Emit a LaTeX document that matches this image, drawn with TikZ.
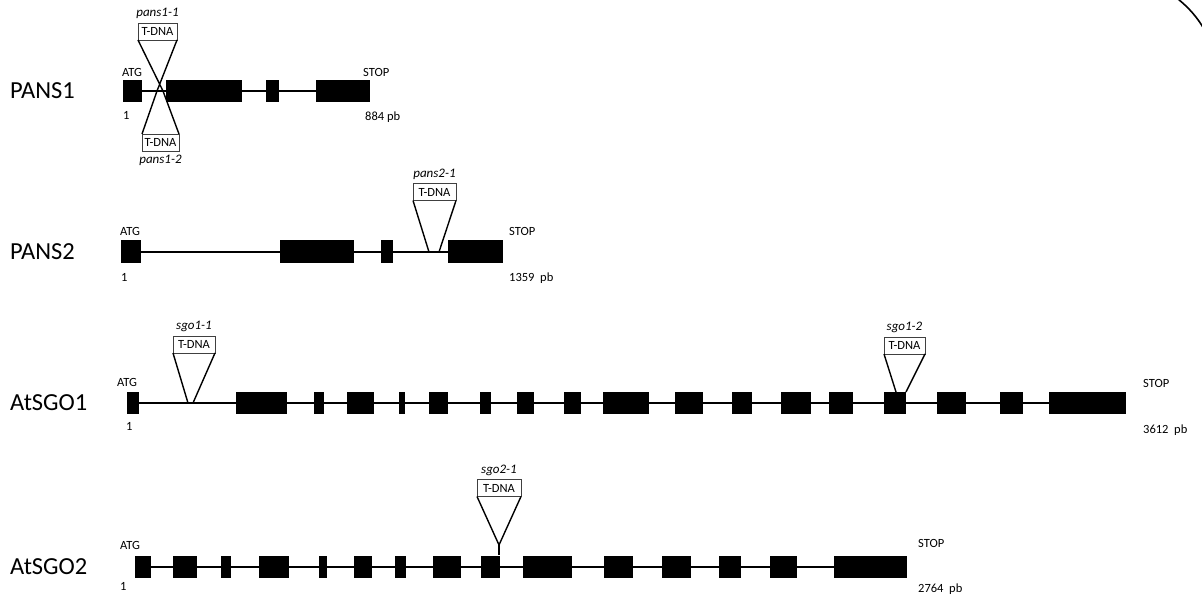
\documentclass[tikz,border=0pt]{standalone}
\usepackage{fontspec}
\setmainfont{Carlito}
\usepackage{tikz}
\usetikzlibrary{positioning}

\tikzset{
  exon/.style={rectangle, fill=black, inner sep=0pt, outer sep=0pt, minimum height=22pt},
  intron/.style={line width=2pt},
  tdna/.style={draw=black!75, line width=0.8pt, fill=white, inner sep=0pt, outer sep=0pt,
    minimum width=41pt, minimum height=17pt, font=\fontsize{12.5}{14}\selectfont},
  allele/.style={inner sep=0pt, font=\fontsize{13}{15}\selectfont\itshape},
  ins/.style={line width=1.4pt},
  tag/.style={inner sep=0pt, anchor=base west, font=\fontsize{12.5}{15}\selectfont},
  gene/.style={inner sep=0pt, anchor=west, font=\fontsize{24.5}{28}\selectfont}
}

\begin{document}
\begin{tikzpicture}[x=1pt, y=-1pt]
  \useasboundingbox (0,0) rectangle (1202,596);

  % PANS1
  \node[gene] (pans1) at (10,91) {PANS1};
  \foreach \l/\r [count=\i] in {123/142,166/242,266/279,316/370} {
    \pgfmathsetmacro\w{\r-\l}
    \node[exon, minimum width=\w pt] (p1e\i) at ({(\l+\r)/2},91) {};
  }
  \draw[intron] (p1e1.east) -- (p1e4.west);
  \node[tag] (p1atg) at (122,77) {ATG};
  \node[tag] (p1stop) at (363,77) {STOP};
  \node[tag] (p1start) at (123,120) {1};
  \node[tag] (p1len) at (365,121) {884 pb};
  \node[tdna, minimum width=39pt] (p1t1) at (157.5,31.5) {T-DNA};
  \node[allele, above=4pt of p1t1] (p1a1) {pans1-1};
  \node[tdna, minimum width=37pt] (p1t2) at (160.5,142.5) {T-DNA};
  \node[allele, below=4pt of p1t2] (p1a2) {pans1-2};
  \coordinate (p1x1) at (157,91);
  \coordinate (p1x2) at (163,91);
  \draw[ins] (p1t1.south west) -- (p1x2) (p1t1.south east) -- (p1x1);
  \draw[ins] (p1t2.north west) -- (p1x1) (p1t2.north east) -- (p1x2);

  % PANS2
  \node[gene] (pans2) at (10,252) {PANS2};
  \foreach \l/\r [count=\i] in {121/141,280/354,381/393,448/503} {
    \pgfmathsetmacro\w{\r-\l}
    \node[exon, minimum width=\w pt] (p2e\i) at ({(\l+\r)/2},251.5) {};
  }
  \draw[intron] (p2e1.east) -- (p2e4.west);
  \node[tag] (p2atg) at (120,236) {ATG};
  \node[tag] (p2stop) at (509,236) {STOP};
  \node[tag] (p2start) at (121,281) {1};
  \node[tag] (p2len) at (509,281) {1359~~pb};
  \node[tdna, minimum width=43pt] (p2t1) at (434.5,192) {T-DNA};
  \node[allele, above=4pt of p2t1] (p2a1) {pans2-1};
  \coordinate (p2x1) at (429,252);
  \coordinate (p2x2) at (439,252);
  \draw[ins] (p2t1.south west) -- (p2x1) (p2t1.south east) -- (p2x2);

  % AtSGO1
  \node[gene] (sgo1) at (10,403) {AtSGO1};
  \foreach \l/\r [count=\i] in {127/139,236/287,314/324,347/374,399/405,429/448,480/491,
      517/534,564/581,603/649,675/703,732/752,781/811,829/853,884/906,937/966,1000/1023,1049/1126} {
    \pgfmathsetmacro\w{\r-\l}
    \node[exon, minimum width=\w pt] (s1e\i) at ({(\l+\r)/2},403) {};
  }
  \draw[intron] (s1e1.east) -- (s1e18.west);
  \node[tag] (s1atg) at (117,386) {ATG};
  \node[tag] (s1stop) at (1143,387) {STOP};
  \node[tag] (s1start) at (126,430) {1};
  \node[tag] (s1len) at (1143,433) {3612~~pb};
  \node[tdna, minimum width=42pt] (s1t1) at (194,344.5) {T-DNA};
  \node[allele, above=4pt of s1t1] (s1a1) {sgo1-1};
  \coordinate (s1x1) at (188,403);
  \coordinate (s1x2) at (193,403);
  \draw[ins] (s1t1.south west) -- (s1x1) (s1t1.south east) -- (s1x2);
  \node[tdna, minimum width=41pt] (s1t2) at (904.5,345.5) {T-DNA};
  \node[allele, above=4pt of s1t2] (s1a2) {sgo1-2};
  \coordinate (s1x3) at (896,392);
  \coordinate (s1x4) at (906,392);
  \draw[ins] (s1t2.south west) -- (s1x3) (s1t2.south east) -- (s1x4);

  % AtSGO2
  \node[gene] (sgo2) at (10,567) {AtSGO2};
  \foreach \l/\r [count=\i] in {135/151,173/197,221/231,259/289,319/327,354/372,395/406,433/461,
      481/500,523/572,604/633,662/691,719/741,770/797,834/907} {
    \pgfmathsetmacro\w{\r-\l}
    \node[exon, minimum width=\w pt] (s2e\i) at ({(\l+\r)/2},566.5) {};
  }
  \draw[intron] (s2e1.east) -- (s2e15.west);
  \node[tag] (s2atg) at (120,549) {ATG};
  \node[tag] (s2stop) at (918,547) {STOP};
  \node[tag] (s2start) at (120,590) {1};
  \node[tag] (s2len) at (918,592) {2764~~pb};
  \node[tdna, minimum width=44pt] (s2t1) at (499,488) {T-DNA};
  \node[allele, above=4pt of s2t1] (s2a1) {sgo2-1};
  \coordinate (s2tip) at (499,545);
  \coordinate (s2hit) at (499,555);
  \draw[ins] (s2t1.south west) -- (s2tip) -- (s2t1.south east);
  \draw[ins] (s2tip) -- (s2hit);

  % corner arc
  \draw[line width=1.6pt] (1178,-1) .. controls (1189,8) and (1197,17) .. (1204,29);
\end{tikzpicture}
\end{document}
